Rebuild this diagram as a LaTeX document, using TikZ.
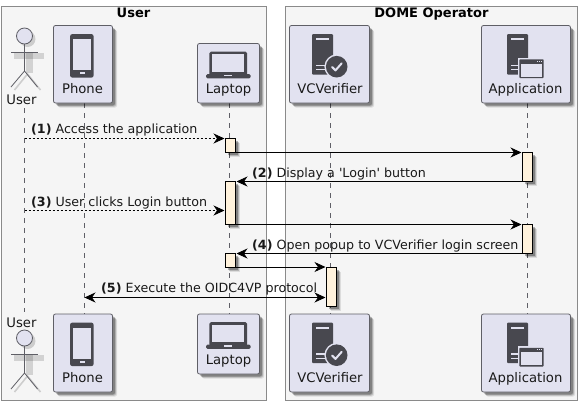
\documentclass[tikz,border=0pt]{standalone}
\usepackage{fontspec}
\setmainfont{DejaVu Sans}
\usetikzlibrary{arrows.meta,shadows}
\definecolor{boxfill}{HTML}{E2E2F0}
\definecolor{boxline}{HTML}{5F5F66}
\definecolor{icondark}{HTML}{48484F}
\definecolor{groupfill}{HTML}{F5F5F5}
\definecolor{groupline}{HTML}{8A8A8A}
\definecolor{activefill}{HTML}{FFF2DC}
\tikzset{
  softshadow/.style={
    drop shadow={shadow xshift=4.5pt,shadow yshift=-4.5pt,fill=black,opacity=.10},
    drop shadow={shadow xshift=3.5pt,shadow yshift=-3.5pt,fill=black,opacity=.18},
    drop shadow={shadow xshift=2.5pt,shadow yshift=-2.5pt,fill=black,opacity=.28}},
  groupbox/.style={draw=groupline,fill=groupfill,line width=.9pt,inner sep=0pt,outer sep=0pt,anchor=north west},
  grouptitle/.style={anchor=base,font=\bfseries\fontsize{13}{15}\selectfont,text=black,inner sep=0pt},
  partbox/.style={draw=boxline,fill=boxfill,rounded corners=2pt,line width=.8pt,inner sep=0pt,outer sep=0pt,anchor=north west,softshadow},
  partlabel/.style={anchor=base,font=\fontsize{13.2}{16}\selectfont,text=black!90,inner sep=0pt},
  msglabel/.style={anchor=base west,font=\fontsize{12.65}{15}\selectfont,text=black!90,inner sep=0pt},
  lifeline/.style={draw=boxline,line width=.7pt,dash pattern=on 5pt off 5pt},
  activebox/.style={draw=black,fill=activefill,line width=.8pt,inner sep=0pt,outer sep=0pt,minimum width=10pt,anchor=north west,softshadow},
  msg/.style={draw=black,line width=.8pt,-{Stealth[length=11pt,width=10pt,inset=3.5pt]},shorten >=1pt},
  usermsg/.style={msg,dash pattern=on 2pt off 2pt,shorten >=1pt},
  actorpart/.style={draw=boxline,line width=.8pt},
  phoneicon/.pic={
    \fill[icondark,rounded corners=2.5pt] (16.5,8.5) rectangle (40.2,52.2);
    \fill[boxfill] (19.2,13.8) rectangle (37.2,44.5);
    \fill[boxfill] (26.5,46.5) rectangle (31.2,48.5);
  },
  laptopicon/.pic={
    \fill[icondark,rounded corners=1.5pt] (11.8,8.2) rectangle (49.5,32);
    \fill[boxfill] (14.5,10.8) rectangle (46.8,28.2);
    \fill[icondark,rounded corners=1.5pt] (8.5,30.5) rectangle (53.2,34.8);
    \fill[boxfill] (26.5,31.2) rectangle (34.5,32.5);
  },
  servericon/.pic={
    \fill[icondark,rounded corners=1pt] (0,8.5) rectangle (21,49.2);
    \fill[boxfill] (4,12.8) rectangle (16.5,14.8);
    \fill[boxfill] (4,39.2) rectangle (14.5,40.5);
    \fill[boxfill] (4,43.8) rectangle (14.5,44.8);
  },
  checkicon/.pic={
    \fill[boxfill] (0,0) circle (12.3);
    \fill[icondark] (0,0) circle (10.8);
    \draw[boxfill,line width=2pt,line cap=round,line join=round] (-4.6,.3) -- (-1.2,3.7) -- (5,-3.4);
  },
  windowicon/.pic={
    \fill[boxfill] (-1.5,-1.5) rectangle (25.9,20.2);
    \fill[icondark,rounded corners=.8pt] (0,0) rectangle (24.4,18.7);
    \fill[boxfill] (1.4,4.2) rectangle (23,17.3);
    \fill[boxfill] (17.3,1.3) rectangle (18.7,2.6);
    \fill[boxfill] (19.6,1.3) rectangle (21,2.6);
    \fill[boxfill] (21.7,1.3) rectangle (23,2.6);
  },
  actorfig/.pic={
    \fill[black,opacity=.16] (3,3) circle (8);
    \fill[black,opacity=.14] (1,17) rectangle (8,37);
    \fill[black,opacity=.14] (-11,17) rectangle (19,23);
    \draw[black,opacity=.16,line width=1.6pt] (-10,54) -- (3,38) -- (16,54);
    \draw[actorpart,fill=boxfill] (0,0) circle (8);
    \draw[actorpart] (0,8) -- (0,35) (-13.5,16.5) -- (13,16.5);
    \draw[actorpart] (-13.5,51) -- (0,35) -- (13,51);
  }
}
\begin{document}
\begin{tikzpicture}[x=1pt,y=-1pt]
  \useasboundingbox (0,0) rectangle (582,405);
  % groups
  \node[groupbox,minimum width=265pt,minimum height=394pt] (userGroup) at (1.5,6) {};
  \node[groupbox,minimum width=292pt,minimum height=394pt] (domeGroup) at (285.5,6) {};
  \node[grouptitle] (userTitle) at (133.5,17.3) {User};
  \node[grouptitle] (domeTitle) at (431.5,17.3) {DOME Operator};
  % lifeline ends
  \coordinate (userA) at (24.5,108);
  \coordinate (userB) at (24.5,312);
  \coordinate (phoneA) at (84.5,103);
  \coordinate (phoneB) at (84.5,314);
  \coordinate (laptopA) at (229.5,103);
  \coordinate (laptopB) at (229.5,314);
  \coordinate (vcvA) at (330.5,103);
  \coordinate (vcvB) at (330.5,314);
  \coordinate (appA) at (527.5,103);
  \coordinate (appB) at (527.5,314);
  \foreach \part in {user,phone,laptop,vcv,app}
    \draw[lifeline] (\part A) -- (\part B);
  % top row
  \pic at (24.5,36) {actorfig};
  \node[partlabel] (userTop) at (21.5,104) {User};
  \node[partbox,minimum width=59pt,minimum height=77.5pt] (phoneTop) at (53.5,25.5) {};
  \pic at (phoneTop.north west) {phoneicon};
  \node[partlabel] (phoneTopText) at (82.5,93.3) {Phone};
  \node[partbox,minimum width=62pt,minimum height=59.5pt] (laptopTop) at (197.5,43.5) {};
  \pic at (laptopTop.north west) {laptopicon};
  \node[partlabel] (laptopTopText) at (228.5,93.3) {Laptop};
  \node[partbox,minimum width=80pt,minimum height=77.5pt] (vcvTop) at (289.5,25.5) {};
  \pic at (312,25.5) {servericon};
  \pic at (336.7,66.7) {checkicon};
  \node[partlabel] (vcvTopText) at (330,93.3) {VCVerifier};
  \node[partbox,minimum width=89pt,minimum height=77.5pt] (appTop) at (481.5,25.5) {};
  \pic at (507,25.5) {servericon};
  \pic at (519.3,59.3) {windowicon};
  \node[partlabel] (appTopText) at (525.5,93.3) {Application};
  % bottom row
  \pic at (24.5,338) {actorfig};
  \node[partlabel] (userBot) at (21.5,327) {User};
  \node[partbox,minimum width=59pt,minimum height=78pt] (phoneBot) at (53.5,314) {};
  \pic at (phoneBot.north west) {phoneicon};
  \node[partlabel] (phoneBotText) at (82.5,382.3) {Phone};
  \node[partbox,minimum width=62pt,minimum height=60pt] (laptopBot) at (197.5,314) {};
  \pic at (laptopBot.north west) {laptopicon};
  \node[partlabel] (laptopBotText) at (228.5,364.3) {Laptop};
  \node[partbox,minimum width=80pt,minimum height=78pt] (vcvBot) at (289.5,314) {};
  \pic at (312,314) {servericon};
  \pic at (336.7,355.2) {checkicon};
  \node[partlabel] (vcvBotText) at (330,382.3) {VCVerifier};
  \node[partbox,minimum width=89pt,minimum height=78pt] (appBot) at (481.5,314) {};
  \pic at (507,314) {servericon};
  \pic at (519.3,347.8) {windowicon};
  \node[partlabel] (appBotText) at (525.5,382.3) {Application};
  % activations
  \node[activebox,minimum height=14pt] (lapBar1) at (225.5,138.5) {};
  \node[activebox,minimum height=43pt] (lapBar2) at (225.5,181.5) {};
  \node[activebox,minimum height=13.5pt] (lapBar3) at (225.5,253.5) {};
  \node[activebox,minimum height=29pt] (appBar1) at (522.5,152.5) {};
  \node[activebox,minimum height=29pt] (appBar2) at (522.5,224.5) {};
  \node[activebox,minimum height=39pt] (vcvBar) at (326.5,267) {};
  % messages
  \coordinate (userMsg1) at (24.5,138.5);
  \coordinate (userMsg3) at (24.5,210.5);
  \coordinate (phoneMsg5) at (84.5,297.5);
  \draw[usermsg] (userMsg1) -- (lapBar1.north west);
  \draw[msg] (lapBar1.south east) -- (appBar1.north west);
  \draw[msg] (appBar1.south west) -- (lapBar2.north east);
  \draw[usermsg] (userMsg3) -- ([yshift=-7.5pt]lapBar2.west);
  \draw[msg] (lapBar2.south east) -- (appBar2.north west);
  \draw[msg] (appBar2.south west) -- (lapBar3.north east);
  \draw[msg] (lapBar3.south east) -- (vcvBar.north west);
  \draw[msg,{Stealth[length=11pt,width=10pt,inset=3.5pt]}-{Stealth[length=11pt,width=10pt,inset=3.5pt]}] (phoneMsg5) -- ([yshift=-11pt]vcvBar.west);
  % message labels
  \node[msglabel] (msgText1) at (31,133.3) {\textbf{(1)} Access the application};
  \node[msglabel] (msgText2) at (252,177.3) {\textbf{(2)} Display a \textquotesingle Login\textquotesingle{} button};
  \node[msglabel] (msgText3) at (31,206.3) {\textbf{(3)} User clicks Login button};
  \node[msglabel] (msgText4) at (252,249.3) {\textbf{(4)} Open popup to VCVerifier login screen};
  \node[msglabel] (msgText5) at (101,292.3) {\textbf{(5)} Execute the OIDC4VP protocol};
\end{tikzpicture}
\end{document}
